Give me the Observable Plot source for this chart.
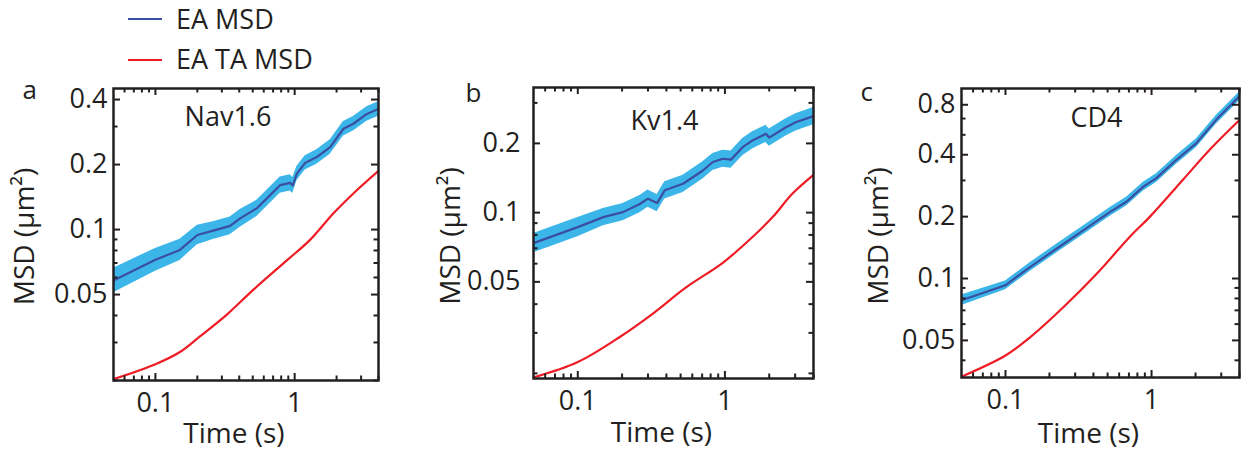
<!DOCTYPE html>
<html><head><meta charset="utf-8">
<script src="https://cdn.jsdelivr.net/npm/d3@7"></script>
<script src="https://cdn.jsdelivr.net/npm/@observablehq/plot@0.6"></script>
<style>
body{margin:0;background:#fff;}
#wrap{position:relative;width:1242px;height:453px;overflow:hidden;font-family:"Open Sans",sans-serif;color:#231f20;}
#wrap svg{position:absolute;top:0;}
.leg{position:absolute;left:0;height:20px;}
.leg .sw{position:absolute;left:128px;width:34px;height:0;top:9.5px;border-top:2.5px solid;}
.leg .tx{position:absolute;left:176px;top:0;font-size:27px;line-height:20px;white-space:nowrap;}
</style></head><body><div id="wrap"></div>
<script>
// ---------- data ----------
const seriesNames = ["EA MSD", "EA TA MSD"];
const panelLetters = ["a", "b", "c"];
const panelTitles = ["Nav1.6", "Kv1.4", "CD4"];
const xLabel = "Time (s)";
const yLabel = "MSD (\u03bcm\u00b2)";
const xMajor = [0.1, 1];
const xMajorLabels = ["0.1", "1"];
const xMinor = [0.06, 0.07, 0.08, 0.09, 0.2, 0.3, 0.4, 0.5, 0.6, 0.7, 0.8, 0.9, 2, 3, 4];

// panel a (Nav1.6)
const tBlueA = [0.05,0.1,0.15,0.2,0.26,0.344,0.406,0.535,0.632,0.786,0.927,0.97,1.037,1.19,1.44,1.8,2.24,2.64,3.3,4];
const vBlueA = [0.0581,0.0724,0.0805,0.0944,0.0989,0.104,0.1127,0.1254,0.1394,0.1605,0.1645,0.16,0.1816,0.2036,0.2167,0.241,0.293,0.309,0.343,0.362];
const eBlueA = [1.14,1.13,1.12,1.11,1.10,1.10,1.10,1.09,1.09,1.09,1.09,1.09,1.08,1.08,1.08,1.08,1.08,1.08,1.08,1.08];
const tRedA = [0.05,0.1,0.15,0.21,0.326,0.506,0.879,1.29,1.9,2.64,4];
const vRedA = [0.0203,0.0238,0.0271,0.0321,0.0404,0.0527,0.072,0.0896,0.119,0.147,0.187];
const yTicksA = [0.05, 0.1, 0.2, 0.4];
const yTickLabelsA = ["0.05", "0.1", "0.2", "0.4"];
const yMinorA = [0.02, 0.03, 0.04, 0.06, 0.07, 0.08, 0.09, 0.3];

// panel b (Kv1.4)
const tBlueB = [0.05,0.1,0.149,0.203,0.264,0.3,0.346,0.39,0.519,0.708,0.828,0.967,1.1,1.32,1.54,1.9,2.0,2.6,3.03,4];
const vBlueB = [0.0737,0.0865,0.0956,0.1005,0.109,0.115,0.11,0.125,0.1335,0.1525,0.166,0.1715,0.17,0.1925,0.206,0.2202,0.212,0.235,0.247,0.263];
const eBlueB = [1.10,1.10,1.09,1.09,1.09,1.09,1.09,1.09,1.09,1.09,1.09,1.09,1.09,1.09,1.09,1.09,1.09,1.09,1.09,1.09];
const tRedB = [0.05,0.1,0.193,0.324,0.547,0.967,1.54,2.11,2.88,4];
const vRedB = [0.0192,0.0224,0.0288,0.0364,0.0474,0.0605,0.0783,0.0956,0.121,0.146];
const yTicksB = [0.05, 0.1, 0.2];
const yTickLabelsB = ["0.05", "0.1", "0.2"];
const yMinorB = [0.02, 0.03, 0.04, 0.06, 0.07, 0.08, 0.09, 0.3];

// panel c (CD4) — top label "0.8" sits at the 0.7 tick in the source figure
const tBlueC = [0.05,0.1,0.148,0.225,0.343,0.521,0.677,0.879,1.08,1.48,2.03,2.78,4];
const vBlueC = [0.0784,0.0927,0.114,0.140,0.172,0.211,0.237,0.28,0.308,0.378,0.456,0.593,0.77];
const eBlueC = [1.06,1.05,1.05,1.05,1.05,1.05,1.05,1.05,1.05,1.05,1.05,1.05,1.05];
const tRedC = [0.05,0.1,0.148,0.25,0.423,0.713,0.976,1.64,2.5,4];
const vRedC = [0.0333,0.0422,0.0519,0.0727,0.1057,0.160,0.2,0.302,0.423,0.59];
const yTicksC = [0.05, 0.1, 0.2, 0.4, 0.7];
const yTickLabelsC = ["0.05", "0.1", "0.2", "0.4", "0.8"];
const yMinorC = [0.04, 0.06, 0.07, 0.08, 0.09, 0.3, 0.5, 0.6];

// ---------- style ----------
const INK = "#231f20", BLUE = "#3a4fa0", BAND = "#3cb5e8", RED = "#ee1c25";
const FONT = "'Open Sans', sans-serif";
const H = 453;
const MAJ = 7, MIN = 4.5;

const wrap = document.getElementById("wrap");

function panel(o) {
  const [mL, mR, mT, mB] = o.m;
  const fw = o.width - mL - mR, fh = H - mT - mB;
  const blue = o.tB.map((t, i) => ({t, v: o.vB[i], lo: o.vB[i] / o.eB[i], hi: o.vB[i] * o.eB[i]}));
  const red = o.tR.map((t, i) => ({t, v: o.vR[i]}));
  const yt = o.yTicks.map((v, i) => ({v, s: o.yLabels[i]}));
  const xt = xMajor.map((v, i) => ({v, s: xMajorLabels[i]}));
  const tk = {stroke: INK, strokeWidth: 2};
  const chart = Plot.plot({
    width: o.width, height: H,
    marginLeft: mL, marginRight: mR, marginTop: mT, marginBottom: mB,
    style: {fontFamily: FONT, color: INK, background: "transparent", overflow: "visible"},
    x: {type: "log", domain: [0.05, 4], label: null, axis: null},
    y: {type: "log", domain: o.yDomain, label: null, axis: null},
    marks: [
      Plot.areaY(blue, {x: "t", y1: "lo", y2: "hi", fill: BAND, clip: true}),
      Plot.lineY(blue, {x: "t", y: "v", stroke: BLUE, strokeWidth: 2.2, clip: true}),
      Plot.lineY(red, {x: "t", y: "v", stroke: RED, strokeWidth: 2.2, curve: "catmull-rom", clip: true}),
      // inward ticks on all four sides
      Plot.tickY(o.yTicks, {y: d => d, insetRight: fw - MAJ, ...tk}),
      Plot.tickY(o.yMinor, {y: d => d, insetRight: fw - MIN, ...tk}),
      Plot.tickY(o.yTicks, {y: d => d, insetLeft: fw - MAJ, ...tk}),
      Plot.tickY(o.yMinor, {y: d => d, insetLeft: fw - MIN, ...tk}),
      Plot.tickX(xMajor, {x: d => d, insetTop: fh - MAJ, ...tk}),
      Plot.tickX(xMinor, {x: d => d, insetTop: fh - MIN, ...tk}),
      Plot.tickX(xMajor, {x: d => d, insetBottom: fh - MAJ, ...tk}),
      Plot.tickX(xMinor, {x: d => d, insetBottom: fh - MIN, ...tk}),
      Plot.frame({stroke: INK, strokeWidth: 2.5}),
      // tick labels
      Plot.text(yt, {y: "v", text: "s", frameAnchor: "left", textAnchor: "end", dx: -o.yPad, fontSize: 27, fill: INK}),
      Plot.text(xt, {x: "v", text: "s", frameAnchor: "bottom", lineAnchor: "top", dy: 12, fontSize: 27, fill: INK}),
      // titles
      Plot.text([o.title], {text: d => d, frameAnchor: "top", textAnchor: "middle", dx: o.titleDx, dy: o.titleDy, fontSize: 27, lineAnchor: "bottom", fill: INK}),
      Plot.text([o.letter], {text: d => d, frameAnchor: "top-left", textAnchor: "start", dx: o.letterDx, dy: o.letterDy, fontSize: 26, lineAnchor: "bottom", fill: INK}),
      Plot.text([xLabel], {text: d => d, frameAnchor: "bottom", textAnchor: "middle", dx: -12, dy: o.xlabDy, fontSize: 28, lineAnchor: "bottom", fill: INK}),
      Plot.text([yLabel], {text: d => d, frameAnchor: "left", textAnchor: "middle", rotate: -90, dx: o.ylabDx, dy: o.ylabDy, fontSize: 28, lineAnchor: "middle", fill: INK})
    ]
  });
  chart.style.left = o.left + "px";
  wrap.appendChild(chart);
}

panel({left: 0, width: 414, m: [113, 36, 88, 73], yDomain: [0.02, 0.45], yTicks: yTicksA, yLabels: yTickLabelsA, yMinor: yMinorA, yPad: 6,
  tB: tBlueA, vB: vBlueA, eB: eBlueA, tR: tRedA, vR: vRedA,
  title: panelTitles[0], titleDx: -18, titleDy: 37, letter: panelLetters[0], letterDx: -91, letterDy: 10,
  xlabDy: 62, ylabDx: -88, ylabDy: 2});
panel({left: 414, width: 414, m: [119, 15, 87, 75], yDomain: [0.019, 0.35], yTicks: yTicksB, yLabels: yTickLabelsB, yMinor: yMinorB, yPad: 13,
  tB: tBlueB, vB: vBlueB, eB: eBlueB, tR: tRedB, vR: vRedB,
  title: panelTitles[1], titleDx: -9, titleDy: 42, letter: panelLetters[1], letterDx: -68, letterDy: 14,
  xlabDy: 63, ylabDx: -82, ylabDy: 3});
panel({left: 828, width: 414, m: [133, 3, 88, 76], yDomain: [0.033, 0.84], yTicks: yTicksC, yLabels: yTickLabelsC, yMinor: yMinorC, yPad: 6,
  tB: tBlueC, vB: vBlueC, eB: eBlueC, tR: tRedC, vR: vRedC,
  title: panelTitles[2], titleDx: -4, titleDy: 38, letter: panelLetters[2], letterDx: -101, letterDy: 12,
  xlabDy: 65, ylabDx: -82, ylabDy: 3});

// ---------- legend (HTML, above the panels) ----------
const legColors = [BLUE, RED];
const legTops = [8.5, 49];
seriesNames.forEach((name, i) => {
  const row = document.createElement("div");
  row.className = "leg";
  row.style.top = legTops[i] + "px";
  const sw = document.createElement("div");
  sw.className = "sw";
  sw.style.borderColor = legColors[i];
  const tx = document.createElement("div");
  tx.className = "tx";
  tx.textContent = name;
  row.appendChild(sw);
  row.appendChild(tx);
  wrap.appendChild(row);
});
</script>
</body></html>
